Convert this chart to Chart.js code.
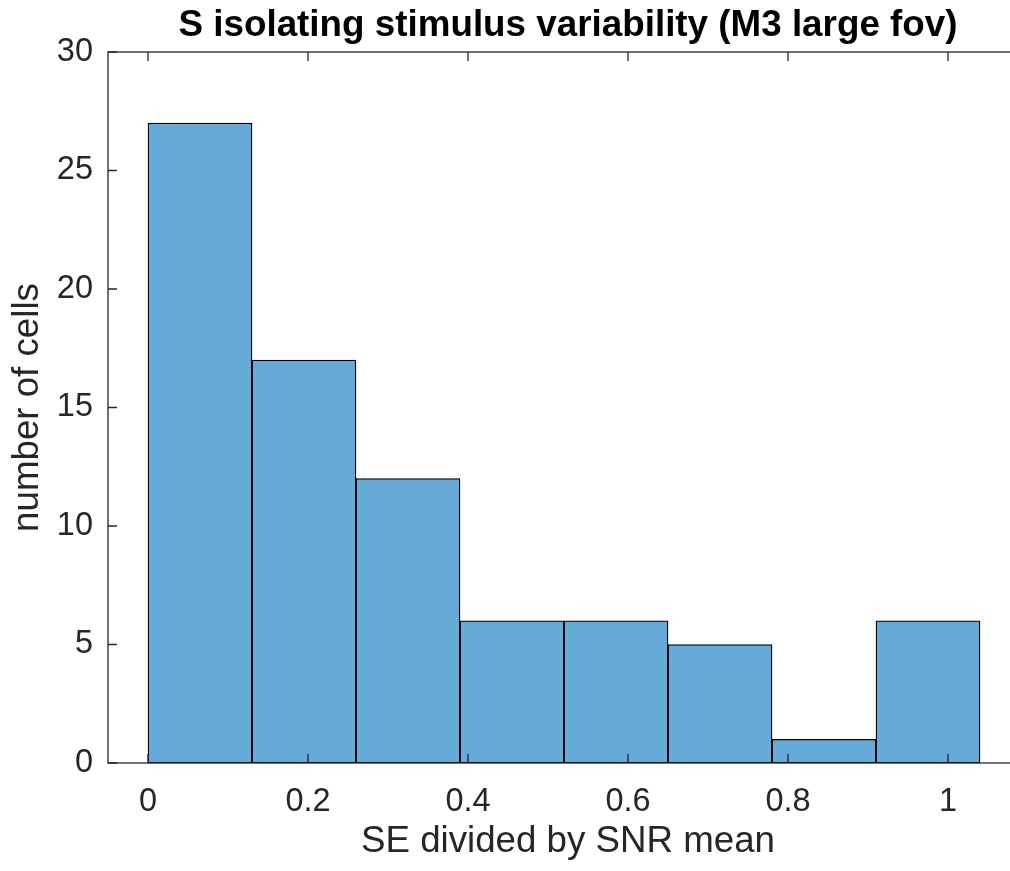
<!DOCTYPE html>
<html>
<head>
<meta charset="utf-8">
<script src="https://cdn.jsdelivr.net/npm/chart.js@4/dist/chart.umd.min.js"></script>
<style>
  body { margin: 0; background: #fff; }
  #wrap { width: 1010px; height: 871px; overflow: hidden; }
</style>
</head>
<body>
<div id="wrap"><canvas id="hist" width="1040" height="871"></canvas></div>
<script>
// histogram data
const binEdges = [0, 0.13, 0.26, 0.39, 0.52, 0.65, 0.78, 0.91, 1.04];
const counts = [27, 17, 12, 6, 6, 5, 1, 6];
const xTicks = [0, 0.2, 0.4, 0.6, 0.8, 1];
const yTicks = [0, 5, 10, 15, 20, 25, 30];

const binCenters = counts.map((c, i) => (binEdges[i] + binEdges[i + 1]) / 2);
const puntos = counts.map((c, i) => ({ x: binCenters[i], y: c }));

const corEixo = '#262626';
const fonte = 'Liberation Sans, Arial, Helvetica, sans-serif';

// moldura estilo MATLAB com ticks para dentro
const molduraPlugin = {
  id: 'moldura',
  afterDatasetsDraw(chart) {
    const { ctx, chartArea: a, scales } = chart;
    const tl = 9;
    ctx.save();
    ctx.strokeStyle = corEixo;
    ctx.lineWidth = 1.3;
    ctx.strokeRect(a.left, a.top, a.right - a.left, a.bottom - a.top);
    ctx.beginPath();
    xTicks.forEach(v => {
      const px = scales.x.getPixelForValue(v);
      ctx.moveTo(px, a.bottom); ctx.lineTo(px, a.bottom - tl);
      ctx.moveTo(px, a.top); ctx.lineTo(px, a.top + tl);
    });
    yTicks.forEach(v => {
      const py = scales.y.getPixelForValue(v);
      ctx.moveTo(a.left, py); ctx.lineTo(a.left + tl, py);
      ctx.moveTo(a.right, py); ctx.lineTo(a.right - tl, py);
    });
    ctx.stroke();
    ctx.restore();
  }
};

new Chart(document.getElementById('hist').getContext('2d'), {
  type: 'bar',
  data: {
    datasets: [{
      data: puntos,
      xAxisID: 'x',
      yAxisID: 'y',
      backgroundColor: '#66aad7',
      borderColor: '#000000',
      borderWidth: 1.3,
      borderSkipped: false,
      barPercentage: 1,
      categoryPercentage: 1
    }]
  },
  options: {
    responsive: false,
    devicePixelRatio: 1,
    animation: false,
    layout: { padding: { left: 0, right: 12, top: 0, bottom: 0 } },
    plugins: {
      legend: { display: false },
      tooltip: { enabled: false },
      title: { display: false }
    },
    scales: {
      x: {
        type: 'linear',
        position: 'bottom',
        min: -0.05,
        max: 1.1,
        offset: false,
        grid: { display: false, drawTicks: false, offset: false },
        border: { display: false },
        afterBuildTicks: s => { s.ticks = xTicks.map(v => ({ value: v })); },
        afterFit: s => { s.height = 108; },
        ticks: {
          color: corEixo,
          padding: 20,
          maxRotation: 0,
          font: { family: fonte, size: 32.5 },
          callback: v => String(v)
        },
        title: {
          display: true,
          text: 'SE divided by SNR mean',
          color: corEixo,
          font: { family: fonte, size: 36.7 },
          padding: { top: 0, bottom: 6.6 }
        }
      },
      // eixo de cima só para o título, centrado na área do gráfico
      xTopo: {
        type: 'linear',
        position: 'top',
        min: -0.05,
        max: 1.1,
        offset: false,
        grid: { display: false, drawTicks: false },
        border: { display: false },
        ticks: { display: false },
        afterFit: s => { s.height = 52; },
        title: {
          display: true,
          text: 'S isolating stimulus variability (M3 large fov)',
          color: '#000',
          font: { family: fonte, size: 36.8, weight: 'bold' },
          padding: { top: 3.4, bottom: 0 }
        }
      },
      y: {
        min: 0,
        max: 30,
        grid: { display: false, drawTicks: false },
        border: { display: false },
        afterBuildTicks: s => { s.ticks = yTicks.map(v => ({ value: v })); },
        afterFit: s => { s.width = 108; },
        ticks: {
          color: corEixo,
          padding: 15,
          font: { family: fonte, size: 32.5 }
        },
        title: {
          display: true,
          text: 'number of cells',
          color: corEixo,
          font: { family: fonte, size: 36.7 },
          padding: { top: 5.6, bottom: 0 }
        }
      }
    }
  },
  plugins: [molduraPlugin]
});
</script>
</body>
</html>
